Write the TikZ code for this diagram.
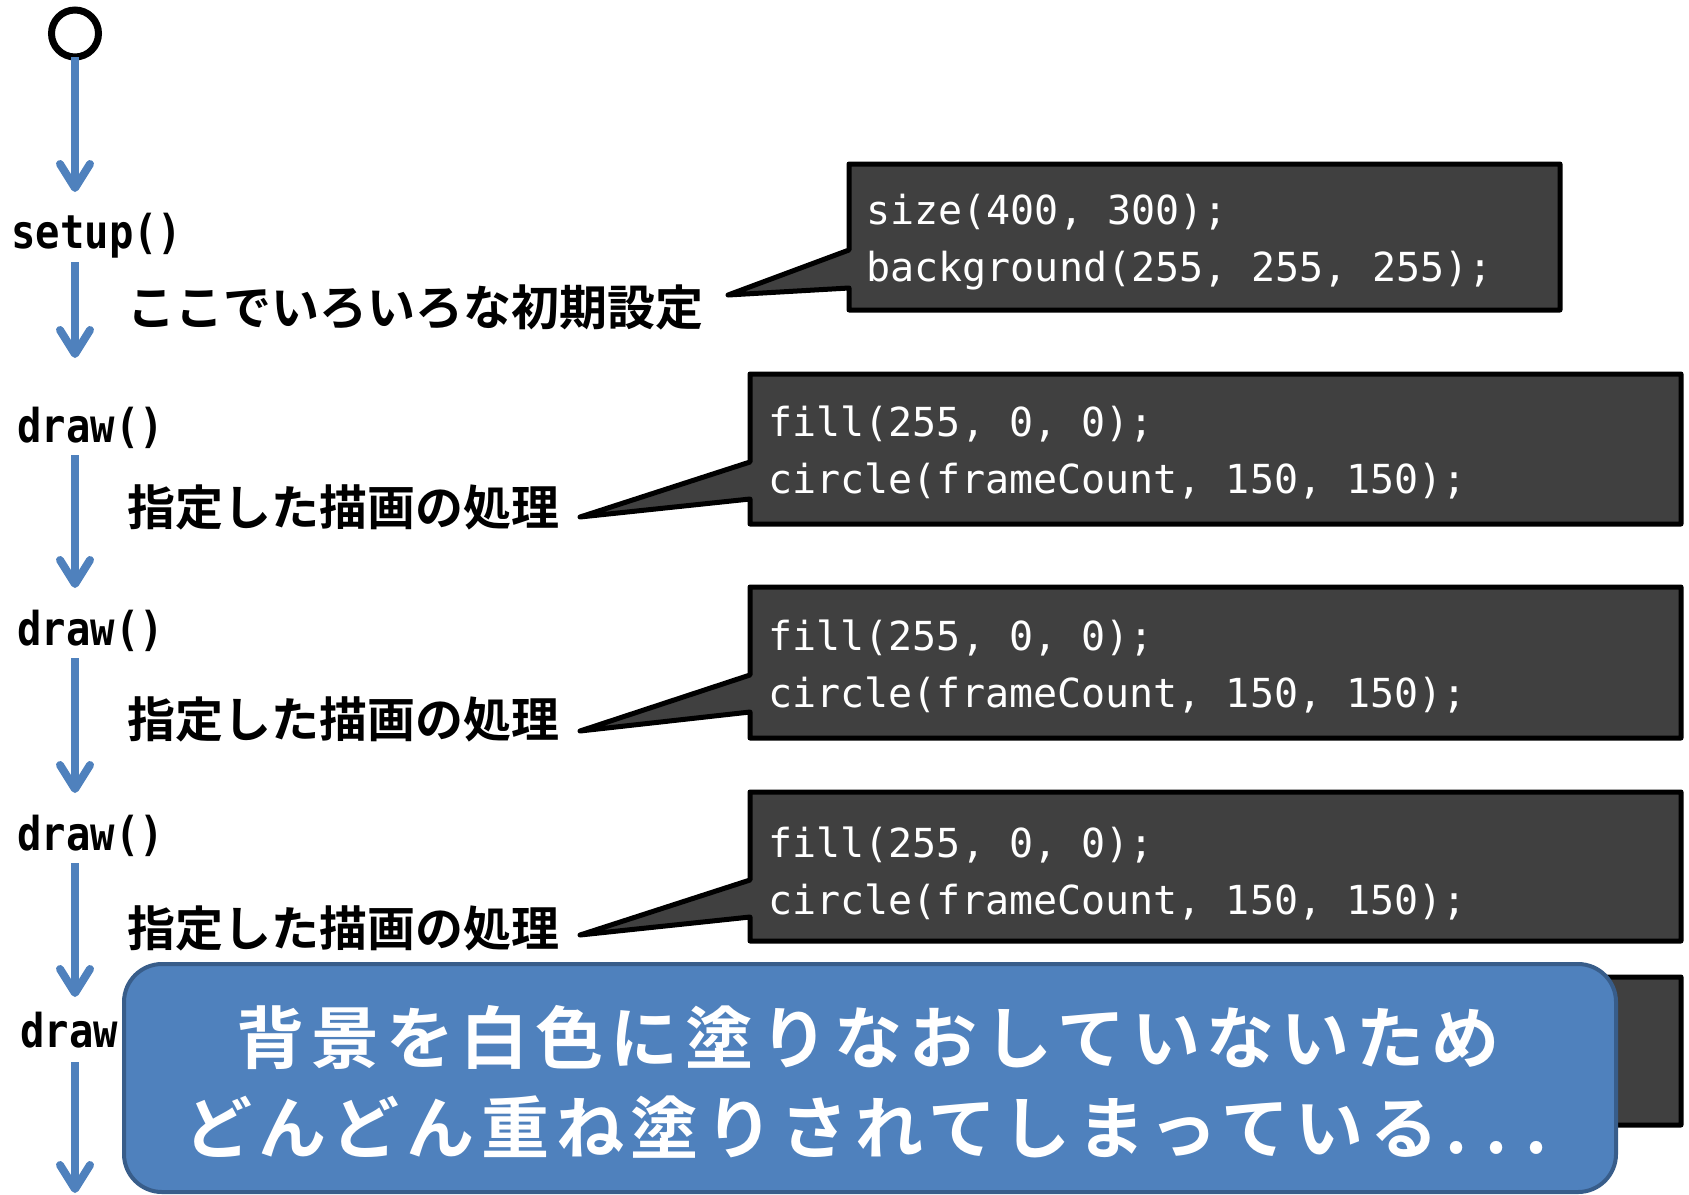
\documentclass[tikz,border=0pt]{standalone}
\usepackage{fontspec}
\usetikzlibrary{arrows.meta}
\newfontfamily\jpb{Noto Sans CJK JP Bold}
\newfontfamily\jpbs{Noto Sans CJK JP Bold}[LetterSpace=10]
\newfontfamily\codef{DejaVu Sans Mono}
\newfontfamily\lblf{DejaVu Sans Mono Bold}[FakeStretch=0.87]
\definecolor{flowblue}{HTML}{4F81BD}
\definecolor{noteblue}{HTML}{4F81BD}
\definecolor{noteedge}{HTML}{385D8A}
\definecolor{codegray}{HTML}{404040}
\begin{document}
\begin{tikzpicture}[x=0.5pt,y=-0.5pt,
  flow/.style={draw=flowblue, line width=4pt, -{Straight Barb[length=12pt,width=15pt,round]}},
  fnlabel/.style={anchor=base west, inner sep=0pt, font=\lblf\fontsize{23.3pt}{23.3pt}\selectfont},
  jplabel/.style={anchor=base west, inner sep=0pt, font=\jpb\fontsize{24pt}{24pt}\selectfont},
  codeline/.style={anchor=base west, inner sep=0pt, text=white, font=\codef\fontsize{20pt}{20pt}\selectfont},
  callout/.style={draw=black, fill=codegray, line width=2.5pt, line join=round},
  msgtext/.style={anchor=base, inner sep=0pt, text=white, font=\jpbs\fontsize{34pt}{34pt}\selectfont},
]
\useasboundingbox (0,0) rectangle (1689,1194);

% callout boxes
\path[callout] (849,164) -- (1560,164) -- (1560,310) -- (849,310) -- (849,288) -- (728,295) -- (849,250) -- cycle;
\path[callout] (750,374) -- (1681,374) -- (1681,524) -- (750,524) -- (750,499) -- (580,517) -- (750,462) -- cycle;
\path[callout] (750,587) -- (1681,587) -- (1681,738) -- (750,738) -- (750,712) -- (580,731) -- (750,675) -- cycle;
\path[callout] (750,792) -- (1681,792) -- (1681,941) -- (750,941) -- (750,917) -- (580,935) -- (750,880) -- cycle;
\path[callout] (750,977) -- (1681,977) -- (1681,1125) -- (750,1125) -- (750,1102) -- (580,1120) -- (750,1065) -- cycle;

% code texts
\node[codeline] (c1a) at (866,224) {size(400, 300);};
\node[codeline] (c1b) at (866,281) {background(255, 255, 255);};
\node[codeline] (c2a) at (768,436) {fill(255, 0, 0);};
\node[codeline] (c2b) at (768,493) {circle(frameCount, 150, 150);};
\node[codeline] (c3a) at (768,650) {fill(255, 0, 0);};
\node[codeline] (c3b) at (768,707) {circle(frameCount, 150, 150);};
\node[codeline] (c4a) at (768,857) {fill(255, 0, 0);};
\node[codeline] (c4b) at (768,914) {circle(frameCount, 150, 150);};

% start circle
\node[circle, draw=black, line width=3.5pt, minimum size=23.5pt, inner sep=0pt, outer sep=0pt] (start) at (75,33.5) {};

% function labels
\node[fnlabel] (setup) at (11,248) {setup()};
\node[fnlabel] (draw1) at (17,442) {draw()};
\node[fnlabel] (draw2) at (17,645) {draw()};
\node[fnlabel] (draw3) at (17,850) {draw()};
\node[fnlabel] (draw4) at (20,1047) {draw()};

% japanese labels
\node[jplabel] (j0) at (127,325) {ここでいろいろな初期設定};
\node[jplabel] (j1) at (127,525) {指定した描画の処理};
\node[jplabel] (j2) at (127,737) {指定した描画の処理};
\node[jplabel] (j3) at (127,946) {指定した描画の処理};

% arrow coordinates
\coordinate (a1e) at (75,192);
\coordinate (a2s) at (75,262);
\coordinate (a2e) at (75,358);
\coordinate (a3s) at (75,455);
\coordinate (a3e) at (75,588);
\coordinate (a4s) at (75,658);
\coordinate (a4e) at (75,793);
\coordinate (a5s) at (75,863);
\coordinate (a5e) at (75,997);
\coordinate (a6s) at (75,1062);
\coordinate (a6e) at (75,1193);

\draw[flow] (start.south) -- (a1e);
\draw[flow] (a2s) -- (a2e);
\draw[flow] (a3s) -- (a3e);
\draw[flow] (a4s) -- (a4e);
\draw[flow] (a5s) -- (a5e);
\draw[flow] (a6s) -- (a6e);

% message box
\node[draw=noteedge, fill=noteblue, line width=2pt, rounded corners=19pt,
  minimum width=746pt, minimum height=114pt, inner sep=0pt, outer sep=0pt,
  anchor=north west] (msgbox) at (124,964) {};
\node[msgtext] (msg1) at (868,1063) {背景を白色に塗りなおしていないため};
\node[msgtext] (msg2) at (866,1153) {どんどん重ね塗りされてしまっている.\kern9pt.\kern9pt.};
\end{tikzpicture}
\end{document}
